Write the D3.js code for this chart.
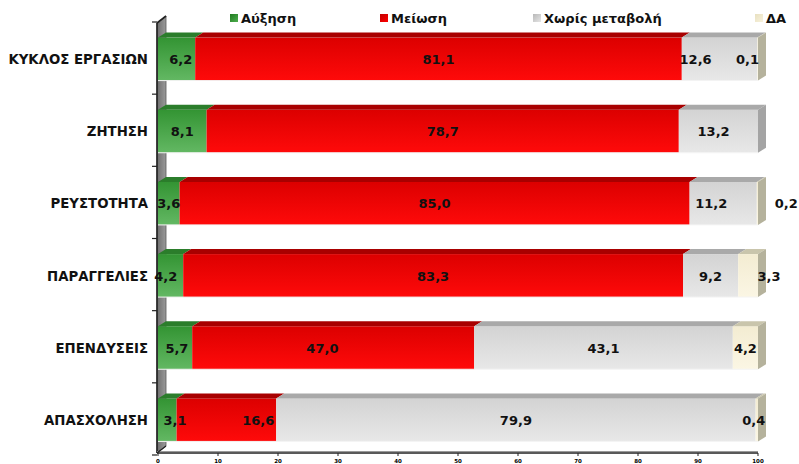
<!DOCTYPE html>
<html>
<head>
<meta charset="utf-8">
<script src="https://cdn.jsdelivr.net/npm/d3@7"></script>
<style>
  html, body { margin: 0; padding: 0; background: #fff; }
  svg { display: block; }
  text { font-family: "DejaVu Sans", Verdana, sans-serif; font-weight: bold; }
</style>
</head>
<body>
<svg id="chart" width="799" height="464"></svg>
<script>
// Business indicators: share of responses per outcome (%)
const categories = ["ΚΥΚΛΟΣ ΕΡΓΑΣΙΩΝ", "ΖΗΤΗΣΗ", "ΡΕΥΣΤΟΤΗΤΑ", "ΠΑΡΑΓΓΕΛΙΕΣ", "ΕΠΕΝΔΥΣΕΙΣ", "ΑΠΑΣΧΟΛΗΣΗ"];
const seriesNames = ["Αύξηση", "Μείωση", "Χωρίς μεταβολή", "ΔΑ"];
const increase  = [6.2, 8.1, 3.6, 4.2, 5.7, 3.1];
const decrease  = [81.1, 78.7, 85.0, 83.3, 47.0, 16.6];
const noChange  = [12.6, 13.2, 11.2, 9.2, 43.1, 79.9];
const noAnswer  = [0.1, 0.0, 0.2, 3.3, 4.2, 0.4];
const tickValues = [0, 10, 20, 30, 40, 50, 60, 70, 80, 90, 100];

// Label nudges along the value axis (in % units), per series and category
const labelNudge = [
  [0.7, 0, 0, -0.8, 0.3, 1.3],
  [0, 0, 0, 0, -1.8, 5.3],
  [-4, -0.8, -2, 0, 0, 0],
  [-1.7, 0, 4.8, 3.5, 0, -0.5]
];

const seriesValues = [increase, decrease, noChange, noAnswer];
const rows = categories.map((c, i) => {
  const r = { cat: c };
  seriesNames.forEach((s, k) => r[s] = seriesValues[k][i]);
  return r;
});
const stacked = d3.stack().keys(seriesNames)(rows);

const svg = d3.select("#chart");
const x = d3.scaleLinear().domain([0, 100]).range([158, 758]);
const band = d3.scaleBand().domain(categories).range([22, 455]);

// 3D projection offsets
const dx = 8, dy = 5;
const wdx = 9, wdy = 7;

const palette = {
  "Αύξηση":         { front: ["#339433", "#63b863"], top: "#2b7d2b", side: "#2b7d2b", legend: ["#1f7a1f", "#4fae4f"] },
  "Μείωση":         { front: ["#dc0000", "#ff0a0a"], top: "#a80000", side: "#a80000", legend: ["#c00000", "#ff0000"] },
  "Χωρίς μεταβολή": { front: ["#d3d3d3", "#e8e8e8"], top: "#a9a9a9", side: "#a4a4a4", legend: ["#b8b8b8", "#e6e6e6"] },
  "ΔΑ":             { front: ["#f3ecd2", "#fbf6e4"], top: "#c9c5ac", side: "#b5b29c", legend: ["#e8e0c0", "#f8f2dc"] }
};

const defs = svg.append("defs");
seriesNames.forEach((s, k) => {
  const g = defs.append("linearGradient").attr("id", "front" + k)
    .attr("x1", 0).attr("y1", 0).attr("x2", 0).attr("y2", 1);
  g.append("stop").attr("offset", "0%").attr("stop-color", palette[s].front[0]);
  g.append("stop").attr("offset", "100%").attr("stop-color", palette[s].front[1]);
  const l = defs.append("linearGradient").attr("id", "legend" + k)
    .attr("x1", 0).attr("y1", 0).attr("x2", 1).attr("y2", 1);
  l.append("stop").attr("offset", "0%").attr("stop-color", palette[s].legend[0]);
  l.append("stop").attr("offset", "100%").attr("stop-color", palette[s].legend[1]);
});
const wallGrad = defs.append("linearGradient").attr("id", "wall").attr("x1", 0).attr("x2", 1);
wallGrad.append("stop").attr("offset", "0%").attr("stop-color", "#6e6e6e");
wallGrad.append("stop").attr("offset", "100%").attr("stop-color", "#9a9a9a");

// Side wall on the left of the plot
const wx = x(0) - 1, wTop = 23, wBot = 453;
svg.append("path")
  .attr("d", `M${wx},${wTop} L${wx + wdx},${wTop - wdy} L${wx + wdx},${wBot - wdy} L${wx},${wBot} Z`)
  .attr("fill", "url(#wall)").attr("stroke", "#555").attr("stroke-width", 0.8);
svg.append("line").attr("x1", wx).attr("x2", wx).attr("y1", wTop).attr("y2", wBot)
  .attr("stroke", "#222").attr("stroke-width", 1.6);
svg.append("line").attr("x1", wx).attr("x2", wx + wdx).attr("y1", wTop).attr("y2", wTop - wdy)
  .attr("stroke", "#222").attr("stroke-width", 1.6);

// Category tick marks on the wall edge
const catTicks = categories.map(c => band(c)).concat([band.range()[1]]);
svg.append("g").selectAll("line").data(catTicks).join("line")
  .attr("x1", wx - 5).attr("x2", wx).attr("y1", d => d).attr("y2", d => d)
  .attr("stroke", "#222").attr("stroke-width", 1.2);

// Floor axis line with ticks
svg.append("line").attr("x1", wx).attr("x2", x(100)).attr("y1", wBot).attr("y2", wBot)
  .attr("stroke", "#222").attr("stroke-width", 1.6);
svg.append("line").attr("x1", wx).attr("x2", x(100)).attr("y1", wBot - 1.5).attr("y2", wBot - 1.5)
  .attr("stroke", "#999").attr("stroke-width", 1);
svg.append("line").attr("x1", wx).attr("x2", wx + wdx).attr("y1", wBot).attr("y2", wBot - wdy)
  .attr("stroke", "#222").attr("stroke-width", 1.2);
const xt = svg.append("g");
xt.selectAll("line").data(tickValues).join("line")
  .attr("x1", d => x(d)).attr("x2", d => x(d)).attr("y1", wBot).attr("y2", wBot + 3)
  .attr("stroke", "#222").attr("stroke-width", 1);
xt.selectAll("text").data(tickValues).join("text")
  .attr("x", d => x(d)).attr("y", 463).attr("text-anchor", "middle")
  .attr("font-size", 5.5).attr("fill", "#000").text(d => d);

// Bars: front face, top face, and end cap
const barH = 43;
const barTop = c => band(c) + band.bandwidth() / 2 - barH / 2 + 1;
const bars = svg.append("g");
stacked.forEach((layer, k) => {
  const s = seriesNames[k];
  layer.forEach((d, i) => {
    const c = categories[i];
    const x0 = x(d[0]), x1 = x(d[1]);
    if (x1 - x0 <= 0) return;
    const t = barTop(c);
    bars.append("rect").attr("x", x0).attr("y", t).attr("width", x1 - x0).attr("height", barH)
      .attr("fill", `url(#front${k})`);
    bars.append("path")
      .attr("d", `M${x0},${t} L${x0 + dx},${t - dy} L${x1 + dx},${t - dy} L${x1},${t} Z`)
      .attr("fill", palette[s].top);
  });
});
// End caps: side colour of the last non-empty segment
categories.forEach((c, i) => {
  let last = 0;
  seriesNames.forEach((s, k) => { if (seriesValues[k][i] > 0) last = k; });
  const xe = x(stacked[last][i][1]);
  const t = barTop(c);
  bars.append("path")
    .attr("d", `M${xe},${t} L${xe + dx},${t - dy} L${xe + dx},${t + barH - dy} L${xe},${t + barH} Z`)
    .attr("fill", palette[seriesNames[last]].side);
  bars.append("line").attr("x1", x(0)).attr("x2", xe).attr("y1", t + barH).attr("y2", t + barH)
    .attr("stroke", "#f4f4f4").attr("stroke-width", 1);
});

// Value labels
const labels = svg.append("g");
stacked.forEach((layer, k) => {
  layer.forEach((d, i) => {
    const v = seriesValues[k][i];
    if (v <= 0) return;
    const c = categories[i];
    const cx = x((d[0] + d[1]) / 2 + labelNudge[k][i]);
    labels.append("text")
      .attr("x", cx).attr("y", barTop(c) + barH / 2 + 5)
      .attr("text-anchor", "middle").attr("font-size", 13).attr("fill", "#111")
      .text(d3.format(".1f")(v).replace(".", ","));
  });
});

// Category labels
svg.append("g").selectAll("text").data(categories).join("text")
  .attr("x", 148).attr("y", c => barTop(c) + barH / 2 + 5)
  .attr("text-anchor", "end").attr("font-size", 13.3).attr("fill", "#111")
  .text(c => c);

// Legend
const legendX = [230, 380, 533, 755];
const lg = svg.append("g");
seriesNames.forEach((s, k) => {
  lg.append("rect").attr("x", legendX[k]).attr("y", 14).attr("width", 8).attr("height", 8)
    .attr("fill", `url(#legend${k})`);
  lg.append("text").attr("x", legendX[k] + 11).attr("y", 23).attr("font-size", 13)
    .attr("fill", "#111").text(s);
});
</script>
</body>
</html>
